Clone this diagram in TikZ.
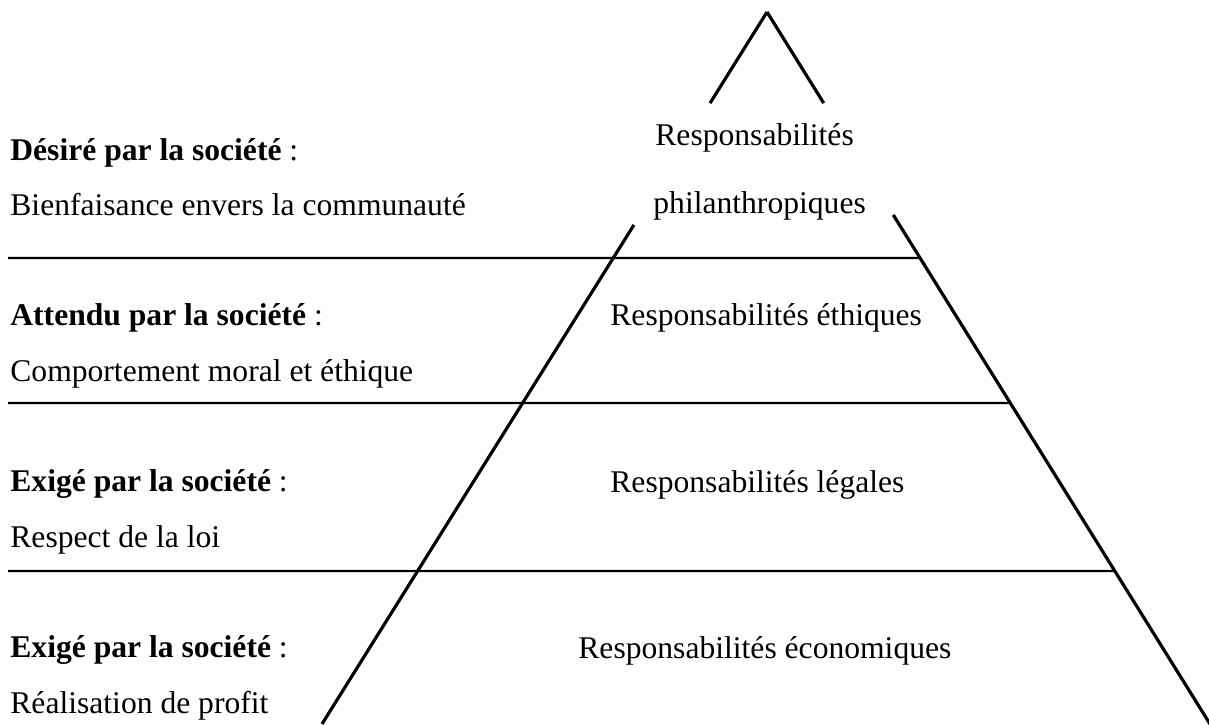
\documentclass[tikz,border=0pt]{standalone}
\usepackage{fontspec}
\setmainfont{Liberation Serif}
\usetikzlibrary{calc}

\begin{document}
\begin{tikzpicture}[x=0.5pt,y=-0.5pt,
  lbl/.style={anchor=base west, inner sep=0pt, font=\fontsize{15.8}{19}\selectfont},
  side/.style={line width=1.6pt},
  layer/.style={line width=1.1pt}]
  % Fix the page to the frame of the picture
  \useasboundingbox (0,0) rectangle (1209,724);

  % Corners of the pyramid
  \coordinate (apex) at (767,12);
  \coordinate (bl) at (322,724);
  \coordinate (br) at (1210,724);

  % Draw the two sides, with a gap round the top label
  \draw[side] (apex) -- ($(apex)!0.128!(bl)$);
  \draw[side] ($(apex)!0.299!(bl)$) -- (bl);
  \draw[side] (apex) -- ($(apex)!0.128!(br)$);
  \draw[side] ($(apex)!0.285!(br)$) -- (br);

  % Draw the layer lines out to the right side
  \foreach \y/\t in {258/0.3455, 403/0.5492, 571/0.7851}
    \draw[layer] (8,\y) -- ($(apex)!\t!(br)$);

  % Left labels
  \node[lbl] (desire) at (10,160) {\textbf{Désiré par la société} :};
  \node[lbl] (bienf) at (10,215) {Bienfaisance envers la communauté};
  \node[lbl] (attendu) at (10,325) {\textbf{Attendu par la société} :};
  \node[lbl] (moral) at (10,381) {Comportement moral et éthique};
  \node[lbl] (exige) at (10,491) {\textbf{Exigé par la société} :};
  \node[lbl] (loi) at (10,547) {Respect de la loi};
  \node[lbl] (exigeb) at (10,657) {\textbf{Exigé par la société} :};
  \node[lbl] (profit) at (10,713) {Réalisation de profit};

  % Labels inside the pyramid
  \node[lbl] (philA) at (655,145) {Responsabilités};
  \node[lbl] (philB) at (653,213) {philanthropiques};
  \node[lbl] (ethique) at (610,325) {Responsabilités éthiques};
  \node[lbl] (legal) at (610,492) {Responsabilités légales};
  \node[lbl] (eco) at (578,658) {Responsabilités économiques};
\end{tikzpicture}
\end{document}
